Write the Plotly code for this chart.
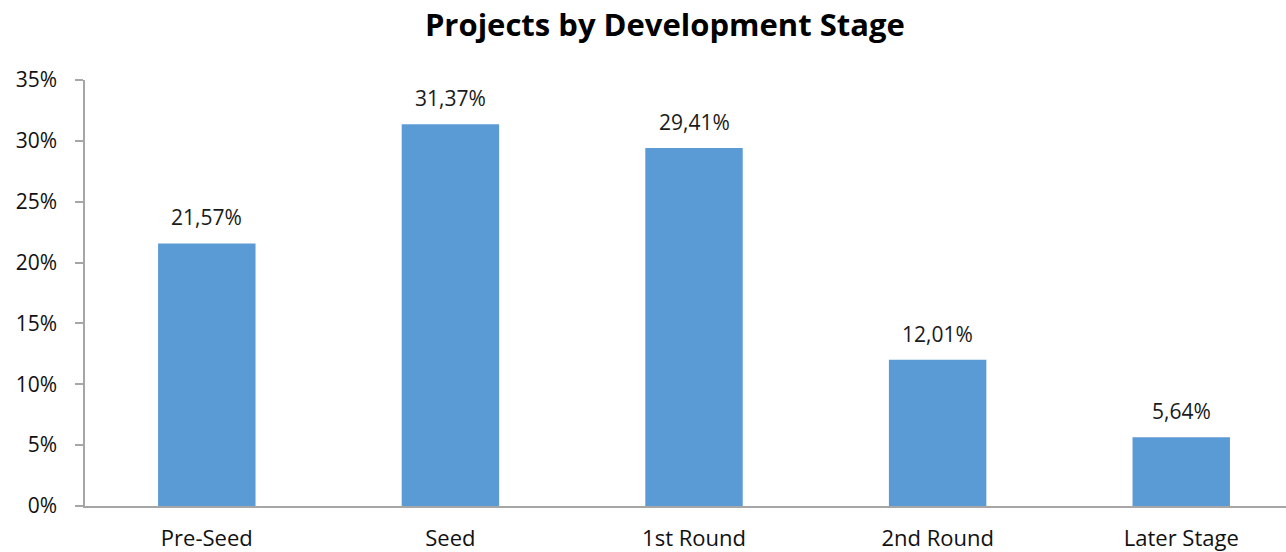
import plotly.graph_objects as go

categories = ["Pre-Seed", "Seed", "1st Round", "2nd Round", "Later Stage"]
values = [21.57, 31.37, 29.41, 12.01, 5.64]
labels = ["21,57%", "31,37%", "29,41%", "12,01%", "5,64%"]
y_ticks = [0, 5, 10, 15, 20, 25, 30, 35]
y_tick_text = [f"{v}%" for v in y_ticks]

FONT = "Open Sans, Carlito, Calibri, sans-serif"

fig = go.Figure()
fig.add_trace(go.Bar(
    x=list(range(len(categories))), y=values,
    marker=dict(color="#5b9bd5", line=dict(width=0)),
    width=0.4, hoverinfo="skip",
))

for i, (v, t) in enumerate(zip(values, labels)):
    fig.add_annotation(x=i, y=v, text=t, showarrow=False, yshift=26,
                       xref="x", yref="y",
                       font=dict(family=FONT, size=21, color="#1a1a1a"))

fig.update_layout(
    width=1286, height=552,
    margin=dict(l=85, r=0, t=80, b=46),
    paper_bgcolor="white", plot_bgcolor="white",
    showlegend=False,
    title=dict(text="<b>Projects by Development Stage</b>", x=0.517, xanchor="center",
               y=1 - 25 / 552, yanchor="middle", yref="container",
               font=dict(family=FONT, size=31, color="#000000")),
    xaxis=dict(range=[-0.5, 4.43], tickvals=list(range(len(categories))), ticktext=categories,
               showgrid=False, zeroline=False, showline=True, linecolor="#a6a6a6", linewidth=1.5,
               ticks="", ticklabelstandoff=12,
               tickfont=dict(family=FONT, size=22, color="#111111")),
    yaxis=dict(range=[0, 35], tickvals=y_ticks, ticktext=y_tick_text,
               showgrid=False, zeroline=False, showline=True, linecolor="#a6a6a6", linewidth=1.5,
               ticks="outside", ticklen=8, tickcolor="#a6a6a6", tickwidth=1.5,
               ticklabelstandoff=14,
               tickfont=dict(family=FONT, size=21, color="#111111")),
)

fig.write_html("out.html", config={"displayModeBar": False},
               post_script="document.body.style.margin='0';")
